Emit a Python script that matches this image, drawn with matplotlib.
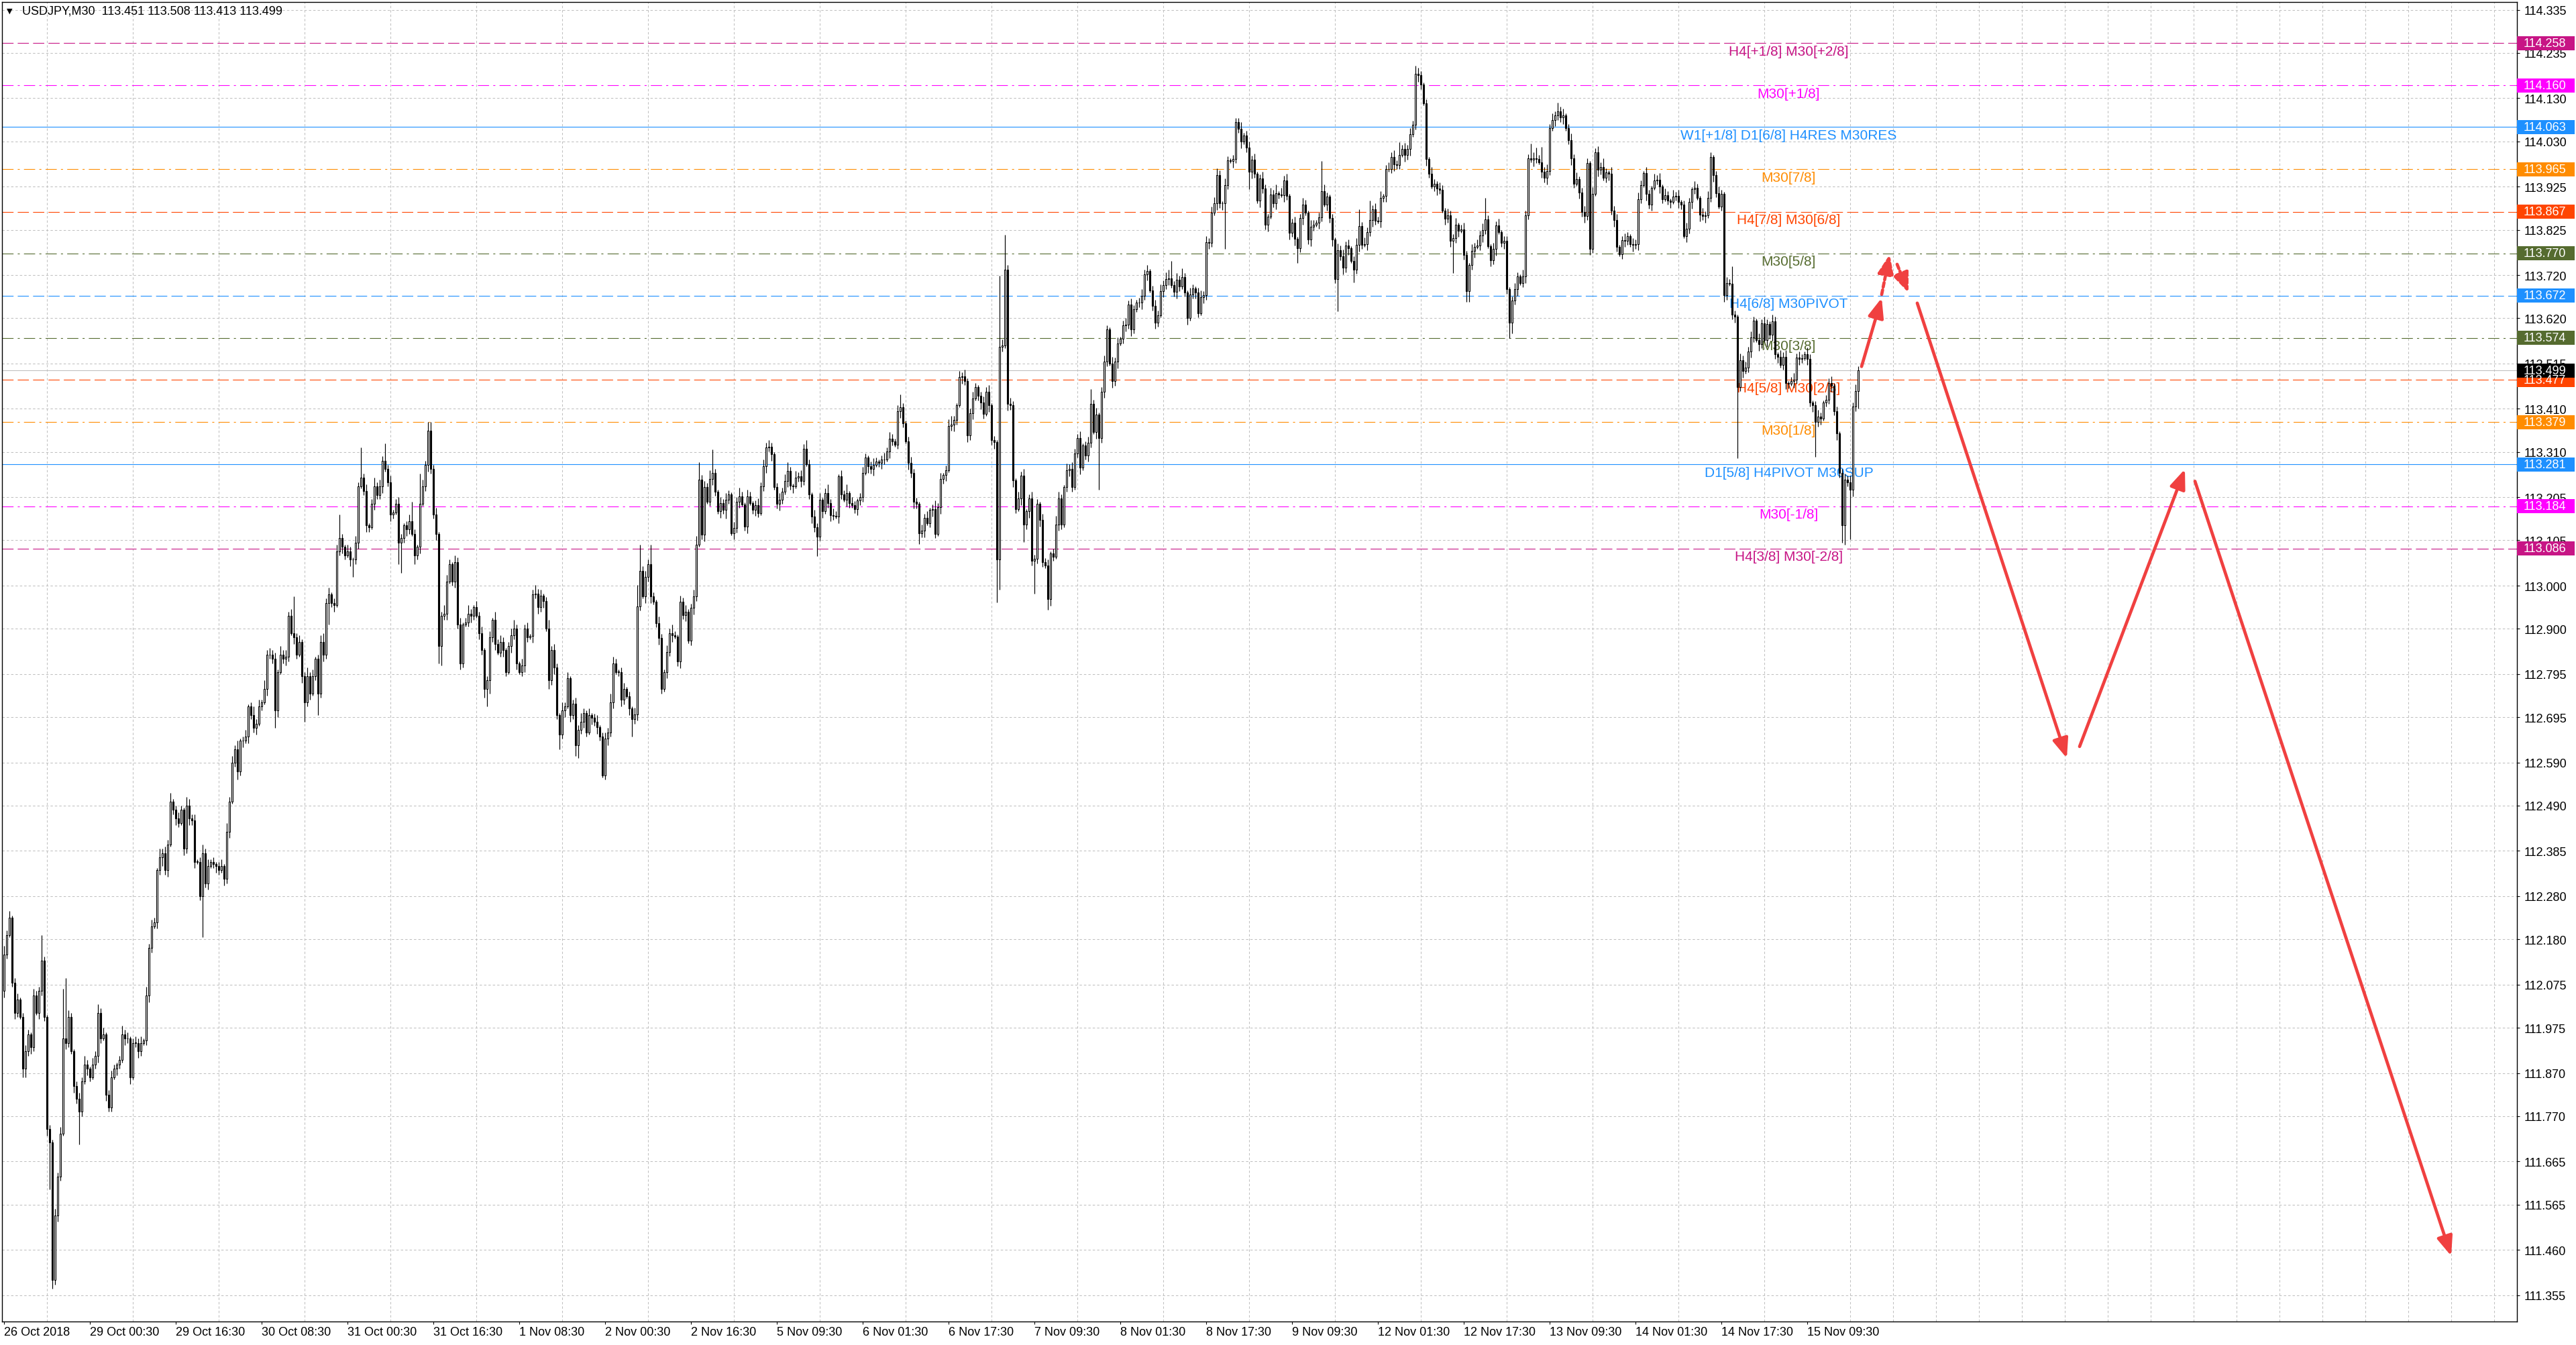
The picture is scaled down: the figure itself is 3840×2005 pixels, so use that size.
import numpy as np
import matplotlib
matplotlib.use("Agg")
import matplotlib.pyplot as plt
from matplotlib.patches import Rectangle
from matplotlib.transforms import blended_transform_factory

plt.rcParams['font.family'] = ['Liberation Sans', 'DejaVu Sans']
plt.rcParams['lines.scale_dashes'] = False

# chart header
symbol = "USDJPY,M30"
header_ohlc = [113.451, 113.508, 113.413, 113.499]

# M30 closes, one per bar (open = previous close)
first_open = 112.06
closes = [
    112.145, 112.19, 112.23, 112.08, 112.01, 112.04, 112.00, 111.88, 111.92, 111.96,
    111.93, 112.05, 112.01, 112.06, 112.13, 112.00, 111.74, 111.71, 111.39, 111.54,
    111.63, 111.73, 111.95, 111.94, 112.00, 111.92, 111.84, 111.81, 111.78, 111.85,
    111.89, 111.88, 111.86, 111.89, 111.91, 112.01, 111.95, 111.96, 111.82, 111.79,
    111.86, 111.88, 111.89, 111.90, 111.96, 111.95, 111.95, 111.86, 111.94, 111.94,
    111.92, 111.94, 111.945, 112.05, 112.16, 112.21, 112.22, 112.34, 112.37, 112.38,
    112.34, 112.40, 112.50, 112.48, 112.46, 112.45, 112.48, 112.39, 112.49, 112.46,
    112.455, 112.36, 112.36, 112.28, 112.38, 112.31, 112.35, 112.36, 112.355, 112.35,
    112.34, 112.35, 112.32, 112.43, 112.50, 112.59, 112.62, 112.57, 112.64, 112.64,
    112.65, 112.72, 112.70, 112.67, 112.68, 112.72, 112.73, 112.76, 112.84, 112.84,
    112.83, 112.71, 112.80, 112.84, 112.83, 112.835, 112.93, 112.89, 112.88, 112.84,
    112.87, 112.79, 112.73, 112.79, 112.75, 112.79, 112.83, 112.75, 112.87, 112.84,
    112.96, 112.98, 112.96, 112.955, 113.08, 113.11, 113.09, 113.07, 113.08, 113.06,
    113.06, 113.10, 113.23, 113.25, 113.22, 113.14, 113.135, 113.19, 113.23, 113.21,
    113.23, 113.29, 113.27, 113.24, 113.165, 113.17, 113.19, 113.10, 113.11, 113.14,
    113.13, 113.15, 113.12, 113.07, 113.09, 113.19, 113.23, 113.28, 113.36, 113.27,
    113.165, 113.12, 112.86, 112.93, 112.935, 113.01, 113.05, 113.01, 113.055, 112.91,
    112.82, 112.91, 112.915, 112.935, 112.93, 112.95, 112.93, 112.89, 112.85, 112.76,
    112.78, 112.88, 112.92, 112.865, 112.845, 112.87, 112.85, 112.80, 112.86, 112.885,
    112.90, 112.82, 112.80, 112.815, 112.90, 112.88, 112.883, 112.98, 112.982, 112.95,
    112.976, 112.964, 112.90, 112.78, 112.85, 112.81, 112.70, 112.655, 112.71, 112.72,
    112.785, 112.70, 112.726, 112.63, 112.666, 112.685, 112.705, 112.66, 112.70, 112.693,
    112.685, 112.672, 112.65, 112.56, 112.645, 112.66, 112.73, 112.82, 112.80, 112.80,
    112.735, 112.76, 112.744, 112.715, 112.69, 112.702, 112.952, 113.035, 112.975, 113.02,
    113.05, 112.975, 112.962, 112.913, 112.878, 112.76, 112.80, 112.846, 112.89, 112.885,
    112.882, 112.824, 112.962, 112.932, 112.94, 112.872, 112.948, 112.975, 113.095, 113.246,
    113.118, 113.228, 113.195, 113.248, 113.261, 113.218, 113.172, 113.191, 113.176, 113.199,
    113.211, 113.122, 113.133, 113.195, 113.207, 113.188, 113.137, 113.207, 113.191, 113.176,
    113.187, 113.168, 113.230, 113.277, 113.321, 113.322, 113.305, 113.228, 113.189, 113.199,
    113.217, 113.243, 113.266, 113.232, 113.230, 113.251, 113.253, 113.243, 113.318, 113.282,
    113.211, 113.160, 113.135, 113.114, 113.199, 113.172, 113.215, 113.191, 113.164, 113.162,
    113.160, 113.253, 113.211, 113.199, 113.215, 113.191, 113.186, 113.178, 113.197, 113.205,
    113.261, 113.297, 113.277, 113.270, 113.280, 113.287, 113.285, 113.292, 113.293, 113.311,
    113.341, 113.335, 113.327, 113.404, 113.413, 113.377, 113.335, 113.284, 113.261, 113.194,
    113.189, 113.122, 113.127, 113.157, 113.145, 113.175, 113.178, 113.12, 113.182, 113.247,
    113.257, 113.268, 113.37, 113.373, 113.384, 113.418, 113.483, 113.485, 113.475, 113.348,
    113.40, 113.434, 113.46, 113.44, 113.424, 113.398, 113.45, 113.418, 113.337, 113.333,
    113.061, 113.553, 113.556, 113.733, 113.421, 113.418, 113.244, 113.178, 113.202, 113.255,
    113.141, 113.172, 113.202, 113.057, 113.062, 113.19, 113.152, 113.054, 113.046, 112.969,
    113.075, 113.067, 113.142, 113.202, 113.141, 113.228, 113.268, 113.271, 113.228, 113.307,
    113.342, 113.273, 113.325, 113.302, 113.331, 113.421, 113.356, 113.397, 113.342, 113.45,
    113.519, 113.594, 113.515, 113.474, 113.519, 113.561, 113.572, 113.604, 113.605, 113.651,
    113.594, 113.64, 113.657, 113.656, 113.672, 113.722, 113.729, 113.685, 113.648, 113.61,
    113.627, 113.683, 113.697, 113.711, 113.713, 113.696, 113.681, 113.709, 113.693, 113.715,
    113.68, 113.62, 113.675, 113.689, 113.68, 113.632, 113.669, 113.673, 113.796, 113.795,
    113.864, 113.886, 113.952, 113.886, 113.886, 113.929, 113.986, 113.984, 113.989, 114.074,
    114.059, 114.029, 114.044, 114.015, 113.959, 113.987, 113.955, 113.892, 113.944, 113.92,
    113.836, 113.856, 113.907, 113.887, 113.91, 113.907, 113.905, 113.94, 113.904, 113.818,
    113.841, 113.804, 113.783, 113.852, 113.884, 113.864, 113.802, 113.832, 113.837, 113.842,
    113.854, 113.915, 113.884, 113.902, 113.852, 113.802, 113.711, 113.778, 113.764, 113.737,
    113.788, 113.782, 113.753, 113.733, 113.79, 113.833, 113.79, 113.792, 113.82, 113.847,
    113.872, 113.846, 113.845, 113.899, 113.904, 113.965, 113.966, 113.994, 113.976, 113.975,
    113.998, 114.012, 113.998, 114.012, 114.046, 114.068, 114.186, 114.183, 114.161, 114.118,
    113.989, 113.955, 113.925, 113.932, 113.92, 113.918, 113.87, 113.851, 113.859, 113.80,
    113.805, 113.837, 113.823, 113.826, 113.766, 113.683, 113.743, 113.776, 113.785, 113.788,
    113.812, 113.825, 113.849, 113.787, 113.755, 113.78, 113.835, 113.82, 113.795, 113.80,
    113.687, 113.609, 113.661, 113.687, 113.717, 113.702, 113.717, 113.859, 113.99, 113.987,
    113.99, 113.989, 113.982, 113.96, 113.945, 113.961, 114.06, 114.08, 114.09, 114.10,
    114.085, 114.09, 114.06, 114.033, 113.99, 113.932, 113.943, 113.912, 113.866, 113.857,
    113.98, 113.781, 113.909, 114.004, 113.964, 113.971, 113.945, 113.958, 113.955, 113.87,
    113.847, 113.785, 113.768, 113.801, 113.80, 113.81, 113.791, 113.79, 113.792, 113.896,
    113.929, 113.956, 113.908, 113.884, 113.922, 113.94, 113.941, 113.925, 113.896, 113.905,
    113.893, 113.89, 113.902, 113.903, 113.89, 113.883, 113.811, 113.827, 113.889, 113.919,
    113.922, 113.899, 113.86, 113.857, 113.858, 113.899, 113.994, 113.951, 113.91, 113.879,
    113.908, 113.673, 113.701, 113.70, 113.628, 113.624, 113.461, 113.523, 113.497, 113.505,
    113.543, 113.575, 113.614, 113.569, 113.56, 113.608, 113.569, 113.607, 113.582, 113.613,
    113.536, 113.531, 113.511, 113.531, 113.47, 113.468, 113.474, 113.478, 113.528, 113.526,
    113.527, 113.537, 113.526, 113.425, 113.418, 113.379, 113.392, 113.388, 113.425, 113.431,
    113.47, 113.464, 113.405, 113.353, 113.261, 113.14, 113.245, 113.24, 113.222, 113.415,
    113.451, 113.499,
]

# wick lengths beyond the body, one base-36 char per bar, in steps of 0.005
wick_step = 0.005
wick_up = (
    "4231231232" "1322c21213" "23ns321232" "4213242312" "3212423123" "2314232142"
    "3241232143" "2312423121" "2314232412" "3124231423" "23142323h2" "3124231234"
    "23123b2132" "132e231242" "3282312321" "23921e3244" "2312432132" "3124213231"
    "2314232123" "4213231242" "3124232142" "3123242131" "2312324321" "231213ac23"
    "2921321324" "2132312348" "2324b21323" "2132421321" "2323232123" "2342132324"
    "2132312423" "2132413212" "3212321232" "3213621232" "2132312423" "1234213231"
    "2321232312" "1x3g232132" "3123221323" "1243213232" "2312372312" "3213231232"
    "3212323123" "2323482324" "2132123232" "3332132122" "2312323123" "2132413231"
    "2312321321" "2e32121323" "2312382329" "2323123232" "6232324321" "2132132132"
    "2312321323" "23a2132312" "2123213227" "3527232324" "2312323123" "2132324213"
    "2312321323" "2132132313" "2132312321" "3213232123" "2132821323" "2321323213"
    "2132312323" "2132123212" "2312123232" "32"
)
wick_dn = (
    "3212321442" "3213223m42" "32132132f2" "1321232132" "2132132312" "3212321324"
    "2312321323" "2312j23123" "2132312423" "1322312132" "2831232132" "1392312a23"
    "2a23123213" "8231232132" "2312321ae2" "3214231232" "2389231232" "3212321324"
    "8623123213" "2312321323" "2314232723" "1325623213" "2321232312" "3213823213"
    "2312321323" "1232312321" "2312321324" "2132312312" "3212323123" "2132312321"
    "2329231232" "1321321232" "2132312321" "3212321323" "2523123213" "2312321323"
    "2312321323" "ke21323213" "8232f23215" "3213212321" "23123213o2" "3213231232"
    "3212323123" "2132312321" "2312321323" "21323l2132" "2312832132" "2312321323"
    "2372312321" "3213232f23" "2316232132" "3213231232" "2132312321" "3212321323"
    "f231255231" "2321323123" "2752312321" "3213232132" "2312321323" "2321321232"
    "3212321323" "2132312321" "2312321323" "2132312321" "232123x231" "2321321323"
    "2312321323" "21323g2312" "23232892n3" "28"
)

time_labels = ["26 Oct 2018", "29 Oct 00:30", "29 Oct 16:30", "30 Oct 08:30", "31 Oct 00:30",
               "31 Oct 16:30", "1 Nov 08:30", "2 Nov 00:30", "2 Nov 16:30", "5 Nov 09:30",
               "6 Nov 01:30", "6 Nov 17:30", "7 Nov 09:30", "8 Nov 01:30", "8 Nov 17:30",
               "9 Nov 09:30", "12 Nov 01:30", "12 Nov 17:30", "13 Nov 09:30", "14 Nov 01:30",
               "14 Nov 17:30", "15 Nov 09:30"]
bars_per_label = 32

price_ticks = [114.335, 114.235, 114.130, 114.030, 113.925, 113.825, 113.720, 113.620,
               113.515, 113.410, 113.310, 113.205, 113.105, 113.000, 112.900, 112.795,
               112.695, 112.590, 112.490, 112.385, 112.280, 112.180, 112.075, 111.975,
               111.870, 111.770, 111.665, 111.565, 111.460, 111.355]

# Murrey-style levels
levels = [114.258, 114.160, 114.063, 113.965, 113.867, 113.770, 113.672,
          113.574, 113.477, 113.379, 113.281, 113.184, 113.086]
level_names = ["H4[+1/8] M30[+2/8]", "M30[+1/8]", "W1[+1/8] D1[6/8] H4RES M30RES",
               "M30[7/8]", "H4[7/8] M30[6/8]", "M30[5/8]", "H4[6/8] M30PIVOT",
               "M30[3/8]", "H4[5/8] M30[2/8]", "M30[1/8]", "D1[5/8] H4PIVOT M30SUP",
               "M30[-1/8]", "H4[3/8] M30[-2/8]"]
level_colors = ["#C71585", "#FF00FF", "#1E90FF", "#FF8C00", "#FF4500", "#556B2F", "#1E90FF",
                "#556B2F", "#FF4500", "#FF8C00", "#1E90FF", "#FF00FF", "#C71585"]
level_styles = ["dash", "dashdot", "solid", "dashdot", "dash", "dashdot", "dash",
                "dashdot", "dash", "dashdot", "solid", "dashdot", "dash"]
label_bar = 665.1
bid = 113.499

# forecast arrows drawn on the chart
arrow_from_bar = [692.25, 699.75, 705.5, 713.0, 773.5, 816.5]
arrow_from_price = [113.508, 113.675, 113.745, 113.655, 112.627, 113.242]
arrow_to_bar = [699.75, 702.75, 709.75, 768.75, 812.75, 912.0]
arrow_to_price = [113.667, 113.768, 113.679, 112.600, 113.270, 111.446]
arrow_dashed = [False, True, True, False, False, False]


# ---- build candles
c = np.array(closes)
n = len(c)
o = np.concatenate([[first_open], c[:-1]])
up = np.array([int(ch, 36) for ch in wick_up][:n] + [1] * max(0, n - len(wick_up)))
dn = np.array([int(ch, 36) for ch in wick_dn][:n] + [1] * max(0, n - len(wick_dn)))
hi = np.maximum(o, c) + up * wick_step
lo = np.minimum(o, c) - dn * wick_step
x = np.arange(n)

W, H = 3840, 2006
fig = plt.figure(figsize=(W / 100, H / 100), dpi=100)
fig.patch.set_facecolor('white')
ax = fig.add_axes([3 / W, 35 / H, 3749 / W, 1967 / H])
ax.set_xlim(-0.75, 936.5)
ax.set_ylim(111.294, 114.353)

# grid
ax.set_axisbelow(True)
ax.set_yticks(price_ticks)
ax.set_yticklabels([f"{p:.3f}" for p in price_ticks])
ax.set_xticks(np.arange(len(time_labels)) * bars_per_label)
ax.set_xticklabels(time_labels)
ax.set_xticks(np.arange(0, 937, 16), minor=True)
ax.grid(axis='y', which='major', color='#C0C0C0', lw=0.75, linestyle=(0, (2.5, 2.2)))
ax.grid(axis='x', which='minor', color='#C0C0C0', lw=0.75, linestyle=(0, (2.5, 2.2)))
ax.yaxis.tick_right()
ax.tick_params(axis='y', direction='out', length=3, width=0.8, pad=4.5, labelsize=13, colors='black')
ax.tick_params(axis='x', which='major', direction='out', length=3, width=0.8, pad=2, labelsize=13)
ax.tick_params(axis='x', which='minor', length=0)
for lbl in ax.get_xticklabels():
    lbl.set_ha('left')
for s in ax.spines.values():
    s.set_color('black')
    s.set_linewidth(1.0)

# levels
dash_map = {"dash": (0, (12, 4.5)), "dashdot": (0, (12, 4.5, 2.2, 4.5)), "solid": "-"}
for lv, name, col, st in zip(levels, level_names, level_colors, level_styles):
    ax.axhline(lv, color=col, lw=0.8, linestyle=dash_map[st], zorder=1)
    ax.text(label_bar, lv - 0.004, name, color=col, fontsize=15, ha='center', va='top', zorder=1.5)
ax.axhline(bid, color='#C0C0C0', lw=0.8, zorder=1)

# candles
ax.vlines(x, lo, hi, color='black', lw=0.85, zorder=3)
bull = c >= o
ax.bar(x[bull], np.maximum(c - o, 0.0004)[bull], bottom=o[bull], width=0.55,
       facecolor='white', edgecolor='black', linewidth=0.8, zorder=4)
ax.bar(x[~bull], (o - c)[~bull], bottom=c[~bull], width=0.55,
       facecolor='black', edgecolor='black', linewidth=0.8, zorder=4)

# arrows
for x0, y0, x1, y1, dsh in zip(arrow_from_bar, arrow_from_price, arrow_to_bar, arrow_to_price, arrow_dashed):
    ax.annotate('', xy=(x1, y1), xytext=(x0, y0),
                arrowprops=dict(arrowstyle='-|>,head_length=0.8,head_width=0.32',
                                mutation_scale=22, color='#F04040', lw=3.4,
                                linestyle=(0, (5, 3)) if dsh else '-',
                                shrinkA=0, shrinkB=0),
                zorder=6)

# price boxes on the right scale
tr = blended_transform_factory(ax.transAxes, ax.transData)
box_w = 86 / 3749
box_h = 21 / 643
box_vals = levels + [bid]
box_cols = level_colors + ['black']
for v, col in zip(box_vals, box_cols):
    ax.add_patch(Rectangle((1.0, v - box_h / 2), box_w, box_h, transform=tr,
                           facecolor=col, edgecolor='none', clip_on=False, zorder=10))
    ax.text(1.0 + 10 / 3749, v, f"{v:.3f}", transform=tr, color='white', fontsize=13,
            ha='left', va='center', clip_on=False, zorder=11)

# header text
fig.text(14 / W, 1 - 17 / H, "\u25BC", fontsize=8, ha='center', va='center', family='DejaVu Sans')
fig.text(33 / W, 1 - 17 / H, f"{symbol}  " + " ".join(f"{v:.3f}" for v in header_ohlc),
         fontsize=13, ha='left', va='center')

fig.savefig('out.png', dpi=100)
